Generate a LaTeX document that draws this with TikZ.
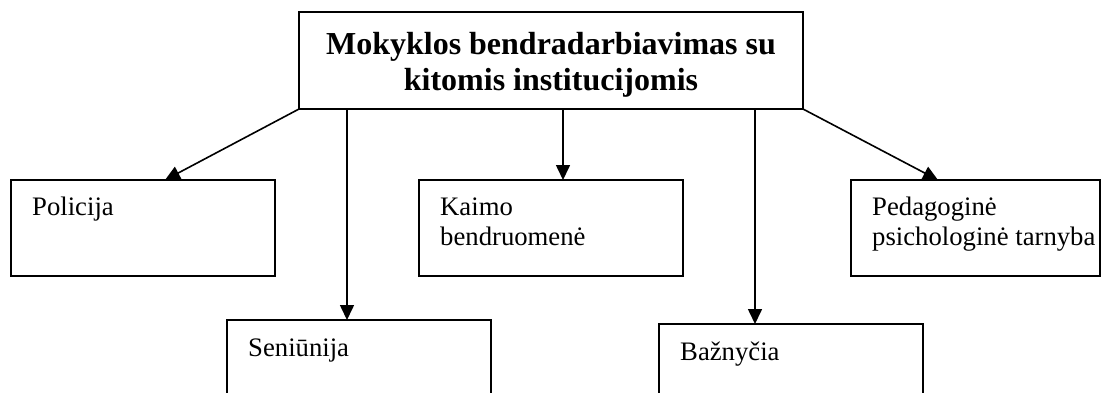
\documentclass[tikz,border=0pt]{standalone}
\usepackage{fontspec}
\setmainfont{Liberation Serif}
\usetikzlibrary{arrows.meta,calc}
\begin{document}
\begin{tikzpicture}[x=1pt,y=-1pt,
  box/.style={draw=black, line width=1.7pt, rectangle, anchor=north west,
    minimum width=264pt, minimum height=96pt, inner sep=0pt, outer sep=0pt},
  lbl/.style={anchor=base west, inner sep=0pt, font=\fontsize{26.7}{30}\selectfont},
  ttl/.style={anchor=base, inner sep=0pt, font=\fontsize{32}{36}\selectfont\bfseries},
  conn/.style={line width=1.6pt, -{Triangle[length=15pt,width=14pt]}},
]
\useasboundingbox (0,0) rectangle (1106,392);
% boxes
\node[box, minimum width=504pt, minimum height=97pt] (top) at (299,12) {};
\node[box] (pol) at (11,180) {};
\node[box] (kai) at (419,180) {};
\node[box, minimum width=249pt] (ped) at (851,180) {};
\node[box] (sen) at (227,320) {};
\node[box] (baz) at (659,324) {};
% texts
\node[ttl] (ttltext) at ($(top.north west)+(252,42)$)
  {\begin{tabular}[t]{@{}c@{}}Mokyklos bendradarbiavimas su\\kitomis institucijomis\end{tabular}};
\node[lbl] (poltext) at ($(pol.north west)+(21,35)$) {Policija};
\node[lbl] (kaitext) at ($(kai.north west)+(21,35)$)
  {\begin{tabular}[t]{@{}l@{}}Kaimo\\bendruomenė\end{tabular}};
\node[lbl] (pedtext) at ($(ped.north west)+(21,35)$)
  {\begin{tabular}[t]{@{}l@{}}Pedagoginė\\psichologinė tarnyba\end{tabular}};
\node[lbl] (sentext) at ($(sen.north west)+(21,36)$) {Seniūnija};
\node[lbl] (baztext) at ($(baz.north west)+(21,36)$) {Bažnyčia};
% connectors
\draw[conn] (top.south west) -- ($(pol.north west)+(154,0)$);
\draw[conn] ($(top.south west)+(48,0)$) -- ($(sen.north west)+(120,0)$);
\draw[conn] ($(top.south west)+(264,0)$) -- ($(kai.north west)+(144,0)$);
\draw[conn] ($(top.south west)+(456,0)$) -- ($(baz.north west)+(96,0)$);
\draw[conn] (top.south east) -- ($(ped.north west)+(87,0)$);
\end{tikzpicture}
\end{document}
